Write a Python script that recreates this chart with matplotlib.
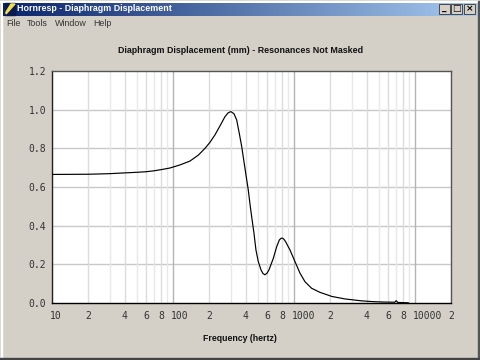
import numpy as np
import matplotlib
matplotlib.use("Agg")
import matplotlib.pyplot as plt
from matplotlib.patches import Rectangle
from matplotlib.ticker import NullLocator
from matplotlib.transforms import ScaledTranslation

freq_hz = [10, 20, 30, 40, 50, 60, 70, 80, 94, 114, 138, 162, 184, 202, 222, 245, 269, 286, 301,
           319, 336, 353, 370, 386, 401, 419, 432, 447, 467, 485, 507, 534, 555, 576, 598, 621,
           675, 719, 757, 780, 800, 825, 853, 927, 1019, 1122, 1233, 1400, 1640, 1866, 2051, 2637, 3630,
           4500, 5500, 6800, 7000, 7200, 8000, 8800]
displacement = [0.665, 0.666, 0.669, 0.673, 0.676, 0.679, 0.684, 0.690, 0.698, 0.714, 0.734, 0.765,
                0.800, 0.831, 0.869, 0.917, 0.964, 0.984, 0.990, 0.979, 0.947, 0.878, 0.808, 0.731,
                0.662, 0.585, 0.516, 0.446, 0.361, 0.274, 0.214, 0.171, 0.152, 0.146, 0.154, 0.171,
                0.231, 0.291, 0.326, 0.334, 0.336, 0.330, 0.317, 0.274, 0.214, 0.154, 0.110, 0.076,
                0.055, 0.043, 0.034, 0.021, 0.011, 0.007, 0.005, 0.004, 0.012, 0.003, 0.002, 0.001]
y_ticks = [0.0, 0.2, 0.4, 0.6, 0.8, 1.0, 1.2]
x_ticks = [10, 20, 30, 40, 50, 60, 70, 80, 90, 100, 200, 300, 400, 500, 600, 700, 800, 900,
           1000, 2000, 3000, 4000, 5000, 6000, 7000, 8000, 9000, 10000, 20000]
x_labels = ["10", "2", "", "4", "", "6", "", "8", "", "100", "2", "", "4", "", "6", "", "8", "",
            "1000", "2", "", "4", "", "6", "", "8", "", "10000", "2"]
title = "Diaphragm Displacement (mm) - Resonances Not Masked"
x_title = "Frequency (hertz)"
win_title = "Hornresp - Diaphragm Displacement"
menus = ["File", "Tools", "Window", "Help"]
menu_px = [6, 27, 55, 93]

W, H = 480, 360
BG = "#d4d0c8"
fig = plt.figure(figsize=(W / 100, H / 100), dpi=100, facecolor=BG)

def px_axes(x0, y0, x1, y1):
    return fig.add_axes([x0 / W, 1 - y1 / H, (x1 - x0) / W, (y1 - y0) / H])

# window chrome
chrome = fig.add_axes([0, 0, 1, 1], zorder=0)
chrome.set_xlim(0, W); chrome.set_ylim(H, 0); chrome.axis("off")
chrome.add_patch(Rectangle((0, 0), W, 1, color="#d4d0c8"))
chrome.add_patch(Rectangle((0, 1), W, 1, color="#ffffff"))
chrome.add_patch(Rectangle((1, 1), 1, H, color="#ffffff"))
chrome.add_patch(Rectangle((W - 2, 1), 2, H, color="#555555"))
chrome.add_patch(Rectangle((0, H - 2), W, 2, color="#444444"))
grad = np.linspace(0, 1, 256)[None, :, None]
c0, c1 = np.array([10, 36, 106]) / 255, np.array([166, 202, 240]) / 255
chrome.imshow(c0 + (c1 - c0) * grad, extent=(3, W - 3, 16, 3), aspect="auto", zorder=1)
chrome.set_xlim(0, W); chrome.set_ylim(H, 0)
chrome.add_patch(Rectangle((5, 3), 10, 12, color="#0a1a50", zorder=1.5))
chrome.fill([6, 15, 11, 6], [14, 4, 4, 12], color="#f4e04d", zorder=2)
chrome.text(17, 8.5, win_title, color="white", fontsize=6.4, fontweight="bold",
            family="Liberation Sans", va="center", ha="left", zorder=3)
for bx, sym in zip([440, 452, 465], ["_", "□", "×"]):
    chrome.add_patch(Rectangle((bx - 1, 4), 11, 9.5, fc=BG, ec="#333333", lw=0.6, zorder=2))
    chrome.text(bx + 4.5, 8.5, sym, color="black", fontsize=6.5, ha="center", va="center", zorder=3,
                fontweight="bold", family="DejaVu Sans")
for m, px in zip(menus, menu_px):
    chrome.text(px, 23.5, m, color="#333333", fontsize=6.4, family="Liberation Sans",
                va="center", ha="left", zorder=3)

# plot
ax = px_axes(52, 71, 451.4, 303)
ax.set_facecolor("white")
ax.set_zorder(2)
ax.set_xscale("log")
ax.set_xlim(10, 20000)
ax.set_ylim(0, 1.2)
ax.set_xticks(x_ticks, labels=x_labels)
ax.xaxis.set_minor_locator(NullLocator())
ax.set_yticks(y_ticks, labels=[f"{v:.1f}" for v in y_ticks])
ax.tick_params(length=0, labelsize=7, colors="#333333", labelfontfamily="DejaVu Sans Mono")
ax.tick_params(axis="x", pad=6)
ax.tick_params(axis="y", pad=4)
ax.grid(False)
for v in y_ticks[1:-1]:
    ax.axhline(v, color="#c8c8c8", lw=1, zorder=1)
for v, lab in zip(x_ticks, x_labels):
    major = v in (100, 1000, 10000)
    ax.axvline(v, color="#b4b4b4" if major else ("#dcdcdc" if lab else "#e8e8e8"), lw=1, zorder=1)
for lab, v in zip(ax.get_xticklabels(), x_ticks):
    if v in (10, 100, 1000, 10000):
        lab.set_ha("left")
        lab.set_transform(lab.get_transform() + ScaledTranslation(-2 / 100, 0, fig.dpi_scale_trans))
ax.plot(freq_hz, displacement, color="black", lw=0.85, zorder=3)
for s in ax.spines.values():
    s.set_linewidth(1.0)
ax.spines["left"].set_color("#222222"); ax.spines["bottom"].set_color("black")
ax.spines["top"].set_color("#555555"); ax.spines["right"].set_color("#555555")

fig.text(240.5 / W, 1 - 50.5 / H, title, fontsize=6.4, fontweight="bold", family="Liberation Sans",
         ha="center", va="center", color="#111111")
fig.text(240 / W, 1 - 338.5 / H, x_title, fontsize=6.3, fontweight="bold", family="Liberation Sans",
         ha="center", va="center", color="#111111")
fig.savefig("out.png", dpi=100, facecolor=BG)
